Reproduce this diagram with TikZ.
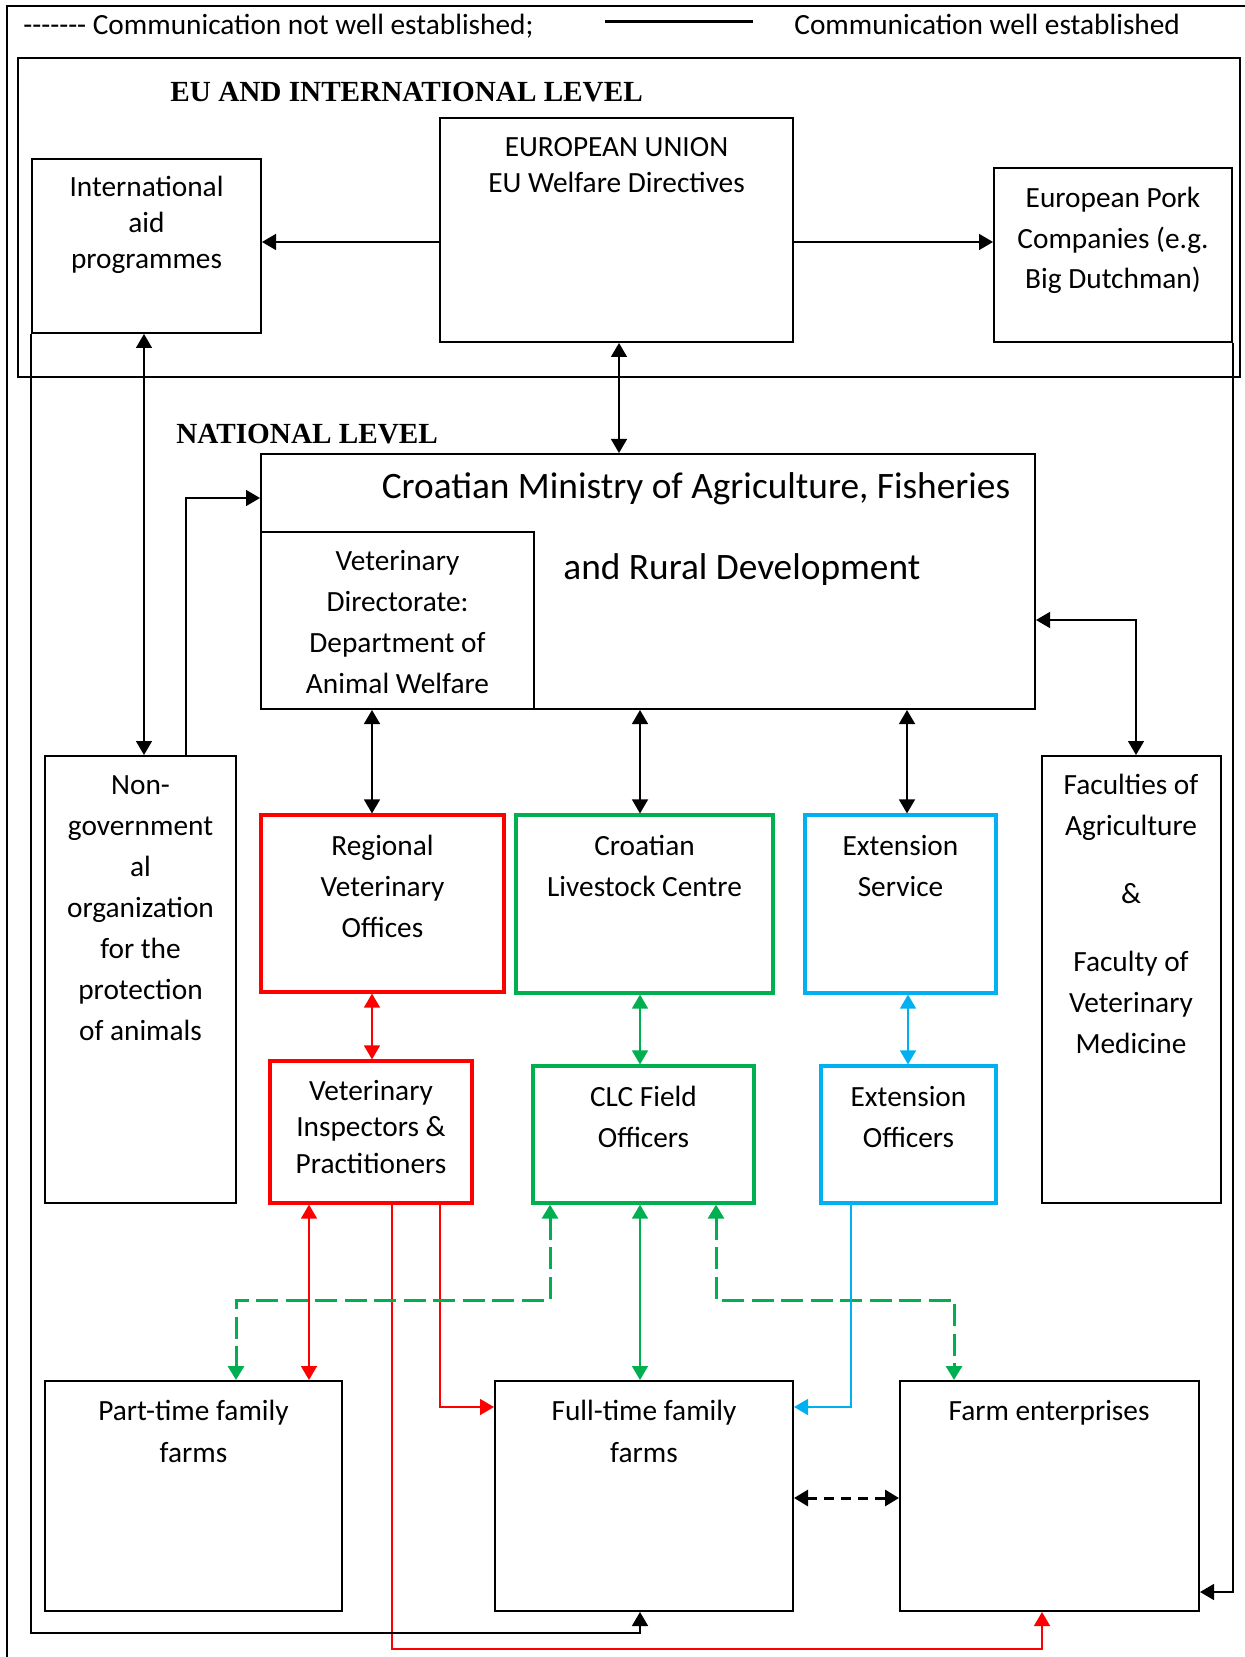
\documentclass[tikz,border=0pt]{standalone}
\usepackage{fontspec}
\setmainfont{Carlito}
\newfontfamily\tnr{Liberation Serif}
\usetikzlibrary{arrows.meta}
\definecolor{cred}{HTML}{FF0000}
\definecolor{cgreen}{HTML}{00B050}
\definecolor{cblue}{HTML}{00B0F0}
\newcommand\bx[6]{\node[#6, minimum width={(#4-#2)*0.5pt}, minimum height={(#5-#3)*0.5pt}] (#1) at ({(#2+#4)/2},{(#3+#5)/2}) {};}
\begin{document}
\begin{tikzpicture}[x=0.5pt,y=-0.5pt, >={Triangle[length=7pt,width=8pt]},
 box/.style={draw, line width=1pt, inner sep=0pt},
 rbox/.style={draw=cred, line width=1.6pt, inner sep=0pt},
 gbox/.style={draw=cgreen, line width=1.6pt, inner sep=0pt},
 bbox/.style={draw=cblue, line width=1.6pt, inner sep=0pt},
 txt/.style={align=center, anchor=base, inner sep=0pt, font=\fontsize{14.66}{20.5}\selectfont},
 head/.style={anchor=base west, inner sep=0pt, font=\tnr\bfseries\fontsize{14.6}{17}\selectfont},
 con/.style={line width=0.75pt},
 gdash/.style={draw=cgreen, line width=1.5pt, dash pattern=on 11pt off 3.75pt},
 kdash/.style={line width=1.5pt, dash pattern=on 5pt off 3.5pt},
]
\useasboundingbox (0,0) rectangle (1245,1657);
% frames
\draw[line width=1pt] (1245,6) -- (7,6) -- (7,1657);
\draw[line width=1pt] (18,58) rectangle (1240,377);
% legend
\node[txt, anchor=base west] (leg1) at (23,35) {-\kern0pt-\kern0pt-\kern0pt-\kern0pt-\kern0pt-\kern0pt- Communication not well established;};
\coordinate (lgA) at (605,22);
\coordinate (lgB) at (753,22);
\draw[line width=1.5pt] (lgA) -- (lgB);
\node[txt, anchor=base west] (leg2) at (794,35) {Communication well established};
% headings
\node[head] (h1) at (170,102) {EU AND INTERNATIONAL LEVEL};
\node[head] (h2) at (176,444) {NATIONAL LEVEL};
% boxes
\bx{intl}{32}{159}{261}{333}{box}
\bx{eu}{440}{118}{793}{342}{box}
\bx{pork}{994}{168}{1232}{342}{box}
\bx{min}{261}{454}{1035}{709}{box}
\bx{vetdir}{261}{532}{534}{709}{box}
\bx{ngo}{45}{756}{236}{1203}{box}
\bx{fac}{1042}{756}{1221}{1203}{box}
\bx{rvo}{261}{815}{504}{992}{rbox}
\bx{clc}{516}{815}{773}{993}{gbox}
\bx{ext}{805}{815}{996}{993}{bbox}
\bx{vi}{270}{1061}{472}{1203}{rbox}
\bx{clcf}{533}{1066}{754}{1203}{gbox}
\bx{exto}{821}{1066}{996}{1203}{bbox}
\bx{pt}{45}{1381}{342}{1611}{box}
\bx{ft}{495}{1381}{793}{1611}{box}
\bx{fe}{900}{1381}{1199}{1611}{box}
% texts (anchor base = baseline of last line)
\node[txt, font=\fontsize{14.66}{18}\selectfont] (intlT) at (146.5,269) {International\\aid\\programmes};
\node[txt, font=\fontsize{14.66}{18}\selectfont] (euT) at (616.5,193) {EUROPEAN UNION\\EU Welfare Directives};
\node[txt, font=\fontsize{14.66}{20.25}\selectfont] (porkT) at (1113,289) {European Pork\\Companies (e.g.\\Big Dutchman)};
\node[txt, font=\fontsize{18.66}{22}\selectfont] (minT1) at (696,499) {Croatian Ministry of Agriculture, Fisheries};
\node[txt, anchor=base west, font=\fontsize{18.66}{22}\selectfont] (minT2) at (563,579) {and Rural Development};
\node[txt] (vetdirT) at (397.5,693) {Veterinary\\Directorate:\\Department of\\Animal Welfare};
\node[txt] (ngoT) at (140.5,1040) {Non-\\government\\al\\organization\\for the\\protection\\of animals};
\node[txt] (facT) at (1131,1053) {Faculties of\\Agriculture\\[13.5pt]\&\\[13.5pt]Faculty of\\Veterinary\\Medicine};
\node[txt] (rvoT) at (382.5,937) {Regional\\Veterinary\\Offices};
\node[txt] (clcT) at (644.5,896) {Croatian\\Livestock Centre};
\node[txt] (extT) at (900.5,896) {Extension\\Service};
\node[txt, font=\fontsize{14.66}{18.25}\selectfont] (viT) at (371,1173) {Veterinary\\Inspectors \&\\Practitioners};
\node[txt] (clcfT) at (643.5,1147) {CLC Field\\Officers};
\node[txt] (extoT) at (908.5,1147) {Extension\\Officers};
\node[txt, font=\fontsize{14.66}{21}\selectfont] (ptT) at (193.5,1462) {Part-time family\\farms};
\node[txt, font=\fontsize{14.66}{21}\selectfont] (ftT) at (644,1462) {Full-time family\\farms};
\node[txt] (feT) at (1049,1420) {Farm enterprises};
% connectors (black)
\draw[con,->] (eu.west |- 0,242) -- (intl.east |- 0,242);
\draw[con,->] (eu.east |- 0,242) -- (pork.west |- 0,242);
\draw[con,<->] (144,0 |- intl.south) -- (144,0 |- ngo.north);
\draw[con,<->] (619,0 |- eu.south) -- (619,0 |- min.north);
\draw[con,->] (186,0 |- ngo.north) |- (min.west |- 0,498);
\draw[con,<->] (min.east |- 0,620) -| (1136,0 |- fac.north);
\draw[con,<->] (372,0 |- min.south) -- (372,0 |- rvo.north);
\draw[con,<->] (640,0 |- min.south) -- (640,0 |- clc.north);
\draw[con,<->] (907,0 |- min.south) -- (907,0 |- ext.north);
% coloured connectors
\draw[con,cred,<->] (372,0 |- rvo.south) -- (372,0 |- vi.north);
\draw[con,cgreen,<->] (640,0 |- clc.south) -- (640,0 |- clcf.north);
\draw[con,cblue,<->] (908,0 |- ext.south) -- (908,0 |- exto.north);
\draw[con,cred,<->] (309,0 |- vi.south) -- (309,0 |- pt.north);
\draw[con,cred,->] (440,0 |- vi.south) |- (ft.west |- 0,1407);
\draw[con,cred,->] (392,0 |- vi.south) -- (392,1649) -| (1042,0 |- fe.south);
\draw[gdash,<->] (550,0 |- clcf.south) |- (236,1300) -- (236,0 |- pt.north);
\draw[con,cgreen,<->] (640,0 |- clcf.south) -- (640,0 |- ft.north);
\draw[gdash,<->] (716,0 |- clcf.south) |- (954,1300) -- (954,0 |- fe.north);
\draw[con,cblue,->] (851,0 |- exto.south) |- (ft.east |- 0,1407);
\draw[kdash,<->] (ft.east |- 0,1498) -- (fe.west |- 0,1498);
\draw[con,->] (intl.south west) -- (intl.south west |- 0,1633) -| (640,0 |- ft.south);
\draw[con,->] (pork.south east) -- (pork.south east |- 0,1592) -- (fe.east |- 0,1592);
\end{tikzpicture}
\end{document}
